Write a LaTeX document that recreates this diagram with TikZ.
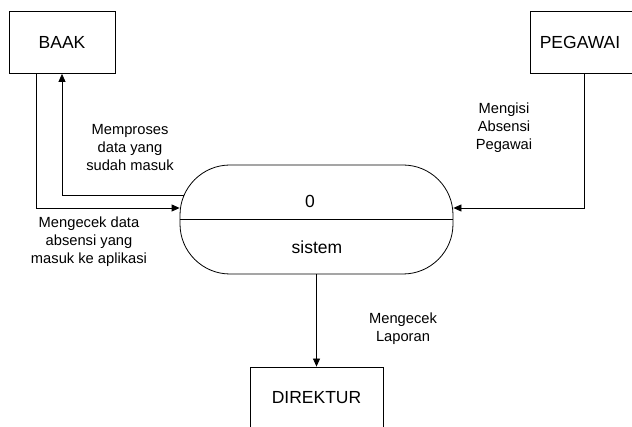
\documentclass[tikz,border=0pt]{standalone}
\usepackage{fontspec}
\setmainfont{Liberation Sans}
\usetikzlibrary{arrows.meta,calc}
\tikzset{
  entity/.style={draw, line width=0.8pt, minimum width=106pt, minimum height=62pt,
    inner sep=0pt, font=\fontsize{17.5}{20}\selectfont},
  process/.style={draw, line width=0.8pt, rounded corners=50pt, minimum width=273pt,
    minimum height=109pt, inner sep=0pt},
  ptext/.style={font=\fontsize{17.5}{20}\selectfont, inner sep=0pt},
  flowlabel/.style={align=center, inner sep=0pt, font=\fontsize{14.7}{18}\selectfont},
  flow/.style={line width=0.8pt, -{Triangle[length=8pt,width=7pt]}}
}
\begin{document}
\begin{tikzpicture}[x=1pt,y=-1pt]
  \useasboundingbox (0,0) rectangle (632,427);
  \clip (0,0) rectangle (632,427);

  % external entities
  \node[entity] (baak) at (62,42.5) {BAAK};
  \node[entity] (peg) at (583,42.5) {};
  \node[ptext] (pegname) at (580,42.5) {PEGAWAI};
  \node[entity, minimum width=133pt] (dir) at (316.5,398) {DIREKTUR};

  % process
  \node[process] (proc) at (316.5,219.5) {};
  \draw[line width=0.8pt] (proc.west) -- (proc.east);
  \node[ptext] (pnum) at (310,201) {0};
  \node[ptext] (pname) at (317,247) {sistem};

  % data flows
  \draw[flow] ([xshift=-26pt]baak.south) |- ([yshift=11.5pt]proc.west);
  \draw[flow] ([xshift=4pt,yshift=24.5pt]proc.west) -| (baak.south);
  \draw[flow] ([xshift=1pt]peg.south) |- ([yshift=11.5pt]proc.east);
  \draw[flow] (proc.south) -- (dir.north);

  % flow labels
  \node[flowlabel] (l1) at (130,148) {Memproses\\data yang\\sudah masuk};
  \node[flowlabel] (l2) at (89,242) {Mengecek data\\absensi yang\\masuk ke aplikasi};
  \node[flowlabel] (l3) at (504,128) {Mengisi\\Absensi\\Pegawai};
  \node[flowlabel] (l4) at (403,329) {Mengecek\\Laporan};
\end{tikzpicture}
\end{document}
